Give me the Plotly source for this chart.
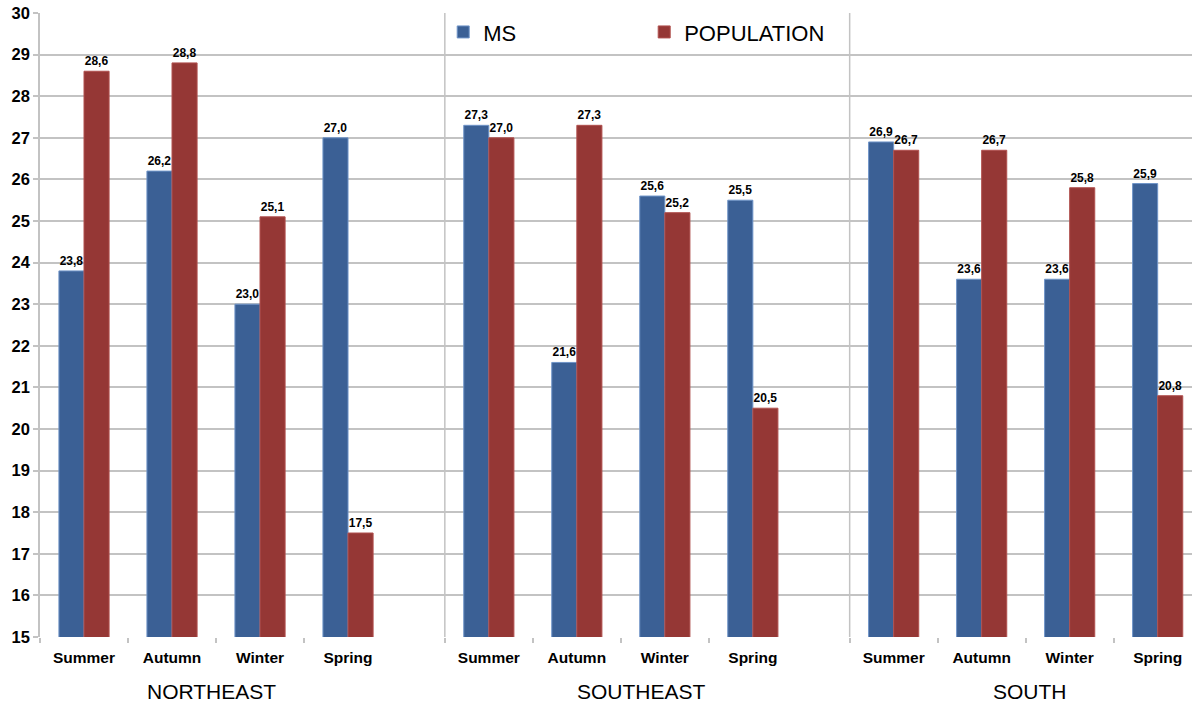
import plotly.graph_objects as go

regions = ["NORTHEAST", "SOUTHEAST", "SOUTH"]
seasons = ["Summer", "Autumn", "Winter", "Spring"]
ms = [23.8, 26.2, 23.0, 27.0,
      27.3, 21.6, 25.6, 25.5,
      26.9, 23.6, 23.6, 25.9]
population = [28.6, 28.8, 25.1, 17.5,
              27.0, 27.3, 25.2, 20.5,
              26.7, 26.7, 25.8, 20.8]
y_ticks = list(range(15, 31))

# each region occupies 4 season slots plus a short gap before the next region
GROUP_SPAN = 4.6
x_pos = [g * GROUP_SPAN + s + 0.5 for g in range(len(regions)) for s in range(len(seasons))]
x_labels = [s for _ in regions for s in seasons]
boundaries = [g * GROUP_SPAN + s for g in range(len(regions)) for s in range(len(seasons))]
separators = [g * GROUP_SPAN for g in range(1, len(regions))]
region_centres = [1.95, 6.83, 11.25]

BLUE = "#3b6095"
RED = "#953735"
GRID = "#c3c3c3"
FONT = "Liberation Sans, Arial, sans-serif"

fig = go.Figure()
fig.add_trace(go.Bar(
    x=x_pos, y=ms, name="MS",
    marker=dict(color=BLUE, line=dict(color="#6f94c8", width=1)),
    texttemplate="%{y:.1f}", textposition="outside",
    textfont=dict(family=FONT, size=12, color="black", weight="bold"),
    cliponaxis=False,
))
fig.add_trace(go.Bar(
    x=x_pos, y=population, name="POPULATION",
    marker=dict(color=RED, line=dict(color="#b0504e", width=1)),
    texttemplate="%{y:.1f}", textposition="outside",
    textfont=dict(family=FONT, size=12, color="black", weight="bold"),
    cliponaxis=False,
))

shapes = []
for xs in separators:
    shapes.append(dict(type="line", xref="x", yref="paper", x0=xs, x1=xs, y0=0, y1=1,
                       line=dict(color=GRID, width=1.5), layer="below"))

annotations = []
for name, xc in zip(regions, region_centres):
    annotations.append(dict(x=xc, xref="x", y=-0.087, yref="paper", text=name,
                            showarrow=False, yanchor="middle",
                            font=dict(family=FONT, size=21, color="black")))

fig.update_layout(
    width=1192, height=703,
    margin=dict(l=40, r=0, t=13, b=66),
    paper_bgcolor="white", plot_bgcolor="white",
    separators=", ",
    barmode="group", bargap=0.43, bargroupgap=0,
    font=dict(family=FONT, color="black"),
    showlegend=True,
    legend=dict(orientation="h", x=0.35, y=1.003, xanchor="left", yanchor="top",
                bgcolor="rgba(0,0,0,0)", entrywidth=156, itemwidth=30,
                font=dict(family=FONT, size=22, color="black")),
    shapes=shapes,
    annotations=annotations,
)
fig.update_xaxes(
    range=[0, 13.09],
    tickmode="array", tickvals=x_pos, ticktext=x_labels,
    tickfont=dict(family=FONT, size=15.5, color="black", weight="bold"),
    ticks="", showgrid=False, ticklabelstandoff=9,
    showline=False, zeroline=False,
    minor=dict(tickmode="array", tickvals=boundaries + [GROUP_SPAN * 3], ticks="outside",
               ticklen=5, tickcolor=GRID, tickwidth=1.5, showgrid=False),
)
fig.update_yaxes(
    range=[15, 30], tickmode="array", tickvals=y_ticks,
    tickfont=dict(family=FONT, size=16.5, color="black", weight="bold"),
    showgrid=True, gridcolor=GRID, gridwidth=1.5,
    showline=True, linecolor=GRID, linewidth=1.5,
    ticks="outside", ticklen=5, tickcolor=GRID, tickwidth=1.5,
    zeroline=False,
)

fig.write_html("out.html")
